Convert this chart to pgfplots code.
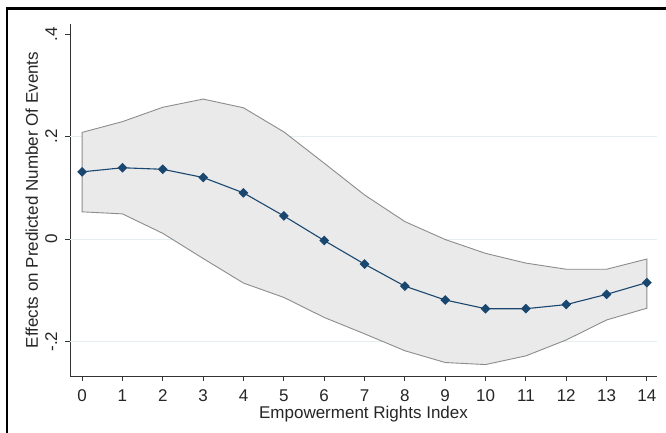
\documentclass[border=0pt]{standalone}
\usepackage{pgfplots}
\pgfplotsset{compat=1.18}
\usepackage{fontspec}
\setmainfont{Liberation Sans}
\definecolor{navy}{HTML}{1A476F}
\definecolor{bandfill}{HTML}{EAEAEA}
\definecolor{bandline}{HTML}{8C8C8C}
\definecolor{gridc}{HTML}{E4EEF0}
\definecolor{axc}{HTML}{333333}
\begin{document}
\fontsize{17}{20}\selectfont
\begin{tikzpicture}[x=1pt,y=1pt]
\useasboundingbox (0,0) rectangle (666,433);
\fill[white] (0,0) rectangle (666,433);
\begin{axis}[
  at={(70pt,57pt)}, anchor=south west,
  scale only axis, width=587pt, height=352pt,
  xmin=-0.3, xmax=14.25, ymin=-0.2673, ymax=0.4195,
  axis x line*=bottom, axis y line*=left,
  axis line style={draw=axc, line width=0.9pt, -},
  tick align=outside, major tick length=5pt,
  tick style={draw=axc, line width=0.9pt},
  xtick={0,1,2,3,4,5,6,7,8,9,10,11,12,13,14},
  xticklabels={0,1,2,3,4,5,6,7,8,9,10,11,12,13,14},
  ytick={-0.2,0,0.2,0.4},
  yticklabels={-.2,0,.2,.4},
  extra y ticks={-0.2,0,0.2},
  extra y tick labels={},
  extra y tick style={grid=major, major grid style={draw=gridc, line width=0.8pt}, major tick length=0pt},
  xticklabel style={anchor=base, yshift=-21pt, text=black!85},
  yticklabel style={rotate=90, anchor=base, yshift=8pt, text=black!85},
  xlabel={Empowerment Rights Index},
  ylabel={Effects on Predicted Number Of Events},
  xlabel style={at={(axis description cs:0.5,0)}, anchor=base, yshift=-43pt, text=black!85},
  ylabel style={at={(axis description cs:0,0.5)}, anchor=base, yshift=32pt, text=black!85},
  clip=false,
]
\addplot[fill=bandfill, draw=bandline, line width=0.9pt] coordinates {
 (0,0.208) (1,0.229) (2,0.257) (3,0.273) (4,0.256) (5,0.209) (6,0.148) (7,0.086)
 (8,0.034) (9,-0.001) (10,-0.028) (11,-0.047) (12,-0.059) (13,-0.059) (14,-0.039)
 (14,-0.135) (13,-0.158) (12,-0.197) (11,-0.228) (10,-0.245) (9,-0.241) (8,-0.218)
 (7,-0.185) (6,-0.153) (5,-0.114) (4,-0.086) (3,-0.038) (2,0.011) (1,0.049) (0,0.053)
} -- cycle;
\addplot[navy, line width=1.1pt, mark=square*, mark size=2.9pt, mark options={rotate=45, fill=navy, draw=navy}] coordinates {
 (0,0.131) (1,0.139) (2,0.136) (3,0.120) (4,0.090) (5,0.045) (6,-0.003) (7,-0.049)
 (8,-0.092) (9,-0.119) (10,-0.136) (11,-0.136) (12,-0.128) (13,-0.108) (14,-0.085)
};
\end{axis}
\draw[black, line width=2.5pt] (7,0) -- (7,424.5) -- (666,424.5);
\end{tikzpicture}
\end{document}
